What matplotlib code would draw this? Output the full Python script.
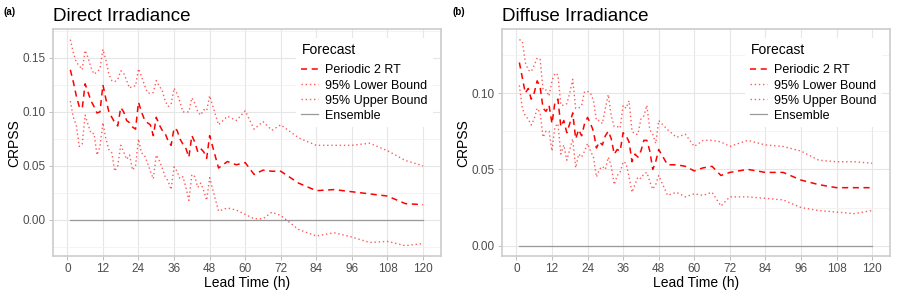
import numpy as np
import matplotlib.pyplot as plt
from matplotlib.lines import Line2D

plt.rcParams['font.family'] = ['Liberation Sans', 'DejaVu Sans']

# lead times: hourly to 48 h, 3-hourly to 72 h, 6-hourly to 120 h
lead = list(range(1, 49)) + list(range(51, 73, 3)) + list(range(78, 121, 6))

# (a) Direct irradiance
direct_p2rt = [0.139, 0.128, 0.115, 0.105, 0.103, 0.126, 0.118, 0.110, 0.105, 0.099,
               0.100, 0.125, 0.112, 0.100, 0.095, 0.090, 0.087, 0.104, 0.100, 0.092,
               0.090, 0.086, 0.084, 0.109, 0.100, 0.093, 0.090, 0.088, 0.078, 0.095,
               0.088, 0.083, 0.080, 0.073, 0.069, 0.085, 0.083, 0.075, 0.070, 0.066,
               0.058, 0.078, 0.072, 0.063, 0.066, 0.063, 0.057, 0.078,
               0.048, 0.054, 0.051, 0.053, 0.042, 0.046, 0.045, 0.045,
               0.034, 0.027, 0.028, 0.026, 0.024, 0.022, 0.015, 0.014]
direct_upper = [0.167, 0.155, 0.146, 0.143, 0.139, 0.157, 0.150, 0.141, 0.135, 0.137,
                0.140, 0.158, 0.148, 0.135, 0.129, 0.128, 0.130, 0.138, 0.136, 0.129,
                0.122, 0.124, 0.124, 0.140, 0.133, 0.125, 0.118, 0.117, 0.118, 0.129,
                0.124, 0.120, 0.110, 0.105, 0.107, 0.122, 0.117, 0.109, 0.100, 0.100,
                0.100, 0.113, 0.108, 0.100, 0.097, 0.102, 0.101, 0.115,
                0.088, 0.096, 0.092, 0.101, 0.084, 0.091, 0.083, 0.088,
                0.076, 0.069, 0.069, 0.069, 0.071, 0.064, 0.055, 0.050]
direct_lower = [0.110, 0.095, 0.088, 0.068, 0.070, 0.097, 0.088, 0.080, 0.080, 0.060,
                0.068, 0.090, 0.075, 0.065, 0.062, 0.045, 0.050, 0.069, 0.063, 0.056,
                0.060, 0.046, 0.050, 0.075, 0.062, 0.060, 0.053, 0.045, 0.038, 0.060,
                0.055, 0.048, 0.040, 0.036, 0.028, 0.049, 0.045, 0.038, 0.040, 0.030,
                0.018, 0.042, 0.040, 0.030, 0.034, 0.027, 0.018, 0.039,
                0.008, 0.011, 0.009, 0.005, 0.001, 0.001, 0.007, 0.004,
                -0.009, -0.015, -0.012, -0.016, -0.021, -0.020, -0.024, -0.022]

# (b) Diffuse irradiance
diffuse_p2rt = [0.120, 0.110, 0.100, 0.103, 0.096, 0.100, 0.108, 0.104, 0.090, 0.088,
                0.092, 0.080, 0.094, 0.096, 0.078, 0.082, 0.074, 0.080, 0.087, 0.070,
                0.076, 0.072, 0.080, 0.084, 0.080, 0.075, 0.064, 0.068, 0.066, 0.072,
                0.075, 0.070, 0.060, 0.063, 0.062, 0.074, 0.072, 0.068, 0.055, 0.060,
                0.058, 0.062, 0.069, 0.069, 0.062, 0.050, 0.055, 0.063,
                0.053, 0.053, 0.052, 0.049, 0.051, 0.052, 0.046, 0.048,
                0.050, 0.048, 0.048, 0.043, 0.040, 0.038, 0.038, 0.038]
diffuse_upper = [0.135, 0.134, 0.120, 0.115, 0.114, 0.118, 0.123, 0.122, 0.102, 0.102,
                 0.098, 0.108, 0.113, 0.112, 0.092, 0.092, 0.093, 0.100, 0.109, 0.090,
                 0.090, 0.092, 0.101, 0.101, 0.100, 0.095, 0.082, 0.082, 0.080, 0.090,
                 0.099, 0.085, 0.078, 0.078, 0.077, 0.092, 0.090, 0.095, 0.075, 0.073,
                 0.073, 0.083, 0.085, 0.092, 0.076, 0.073, 0.067, 0.082,
                 0.076, 0.071, 0.073, 0.065, 0.069, 0.069, 0.068, 0.065,
                 0.069, 0.066, 0.065, 0.062, 0.056, 0.055, 0.055, 0.054]
diffuse_lower = [0.105, 0.090, 0.085, 0.083, 0.079, 0.083, 0.090, 0.087, 0.071, 0.075,
                 0.075, 0.062, 0.078, 0.080, 0.060, 0.066, 0.056, 0.063, 0.070, 0.051,
                 0.060, 0.058, 0.062, 0.067, 0.062, 0.058, 0.045, 0.050, 0.052, 0.050,
                 0.058, 0.052, 0.040, 0.046, 0.048, 0.055, 0.054, 0.045, 0.035, 0.040,
                 0.045, 0.044, 0.047, 0.048, 0.042, 0.037, 0.040, 0.046,
                 0.033, 0.035, 0.032, 0.034, 0.033, 0.035, 0.026, 0.032,
                 0.032, 0.031, 0.030, 0.025, 0.023, 0.022, 0.021, 0.023]
ensemble = [0.0] * len(lead)

panels = [
    ("(a)", "Direct Irradiance", direct_p2rt, direct_lower, direct_upper, [0.00, 0.05, 0.10, 0.15]),
    ("(b)", "Diffuse Irradiance", diffuse_p2rt, diffuse_lower, diffuse_upper, [0.00, 0.05, 0.10]),
]

fig = plt.figure(figsize=(8.99, 2.95), dpi=100)
lefts = [0.0586, 0.5581]

for (tag, title, mid, lo, hi, yt), left in zip(panels, lefts):
    ax = fig.add_axes([left, 0.1322, 0.4316, 0.7685])
    ax.plot(lead, ensemble, color="#999999", lw=0.9, zorder=2)
    ax.plot(lead, lo, color="red", lw=1.0, alpha=0.65, dashes=(1, 2), zorder=3)
    ax.plot(lead, hi, color="red", lw=1.0, alpha=0.65, dashes=(1, 2), zorder=3)
    ax.plot(lead, mid, color="red", lw=1.1, dashes=(4, 3), zorder=4)

    lo_all = min(min(lo), 0.0)
    hi_all = max(hi)
    pad = 0.05 * (hi_all - lo_all)
    ax.set_ylim(lo_all - pad, hi_all + pad)
    ax.set_xlim(1 - 0.05 * 119, 120 + 0.05 * 119)

    ax.set_xticks(range(0, 121, 12))
    ax.set_yticks(yt)
    ax.set_yticklabels([f"{v:.2f}" for v in yt])
    ax.set_yticks([v + 0.025 for v in [-0.05] + yt if lo_all - pad < v + 0.025 < hi_all + pad], minor=True)
    ax.grid(True, which="major", color="#e6e6e6", lw=0.8, zorder=0)
    ax.grid(True, which="minor", axis="y", color="#efefef", lw=0.5, zorder=0)
    ax.set_axisbelow(True)
    ax.tick_params(axis="both", which="major", length=3, width=0.6, color="#b3b3b3",
                   labelsize=8.5, labelcolor="#4d4d4d", pad=2)
    ax.tick_params(axis="both", which="minor", length=0)
    for s in ax.spines.values():
        s.set_color("#cccccc")
        s.set_linewidth(1.2)

    ax.set_xlabel("Lead Time (h)", fontsize=10, labelpad=1)
    ax.set_ylabel("CRPSS", fontsize=10, labelpad=1)
    ax.set_title(title, loc="left", fontsize=13.5, pad=6)
    fig.text(left - 0.055, 0.96, tag, fontsize=7, fontweight="bold", va="center", ha="left")

    handles = [
        Line2D([], [], color="red", lw=1.1, dashes=(4, 3)),
        Line2D([], [], color="red", lw=1.0, alpha=0.65, dashes=(1, 2)),
        Line2D([], [], color="red", lw=1.0, alpha=0.65, dashes=(1, 2)),
        Line2D([], [], color="#999999", lw=0.9),
    ]
    labels = ["Periodic 2 RT", "95% Lower Bound", "95% Upper Bound", "Ensemble"]
    leg = ax.legend(handles, labels, title="Forecast", loc="upper left",
                    bbox_to_anchor=(0.612, 0.99), fontsize=9, title_fontsize=10,
                    frameon=True, facecolor="white", edgecolor="none", framealpha=1,
                    handlelength=1.3, handletextpad=0.6, labelspacing=0.25,
                    borderpad=0.4, alignment="left")
    leg.get_frame().set_linewidth(0)
    leg._legend_box.sep = 5.5

fig.savefig("out.png", dpi=100)
